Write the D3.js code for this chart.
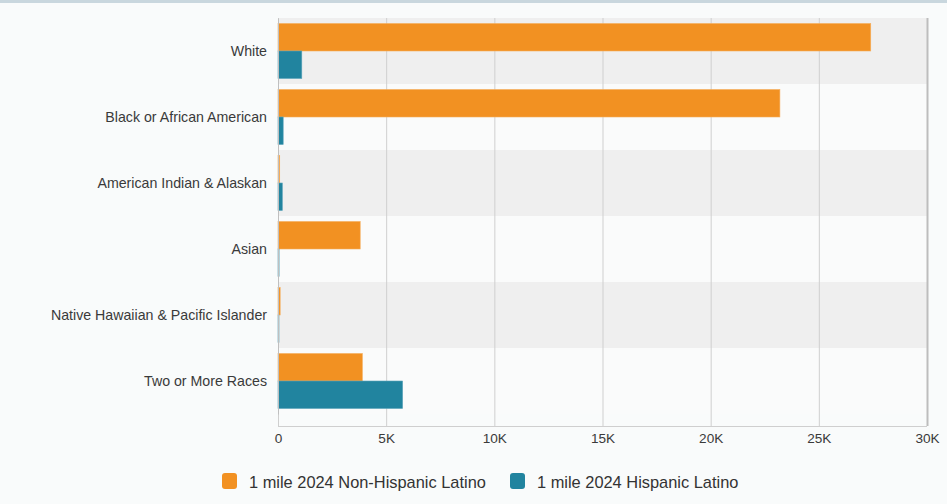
<!DOCTYPE html>
<html>
<head>
<meta charset="utf-8">
<script src="https://cdn.jsdelivr.net/npm/d3@7"></script>
<style>
  html, body { margin: 0; padding: 0; background: #f9fbfb; }
  svg { display: block; font-family: "Liberation Sans", Arial, sans-serif; }
</style>
</head>
<body>
<svg id="chart" width="947" height="504"></svg>
<script>
// Population within 1 mile by race, split by Hispanic / Non-Hispanic Latino
const categories = [
  "White",
  "Black or African American",
  "American Indian & Alaskan",
  "Asian",
  "Native Hawaiian & Pacific Islander",
  "Two or More Races"
];
const seriesNames = ["1 mile 2024 Non-Hispanic Latino", "1 mile 2024 Hispanic Latino"];
const nonHispanic = [27400, 23200, 80, 3800, 100, 3900];
const hispanic = [1100, 240, 200, 50, 40, 5760];
const tickValues = [0, 5000, 10000, 15000, 20000, 25000, 30000];
const tickLabels = ["0", "5K", "10K", "15K", "20K", "25K", "30K"];
const colors = ["#f29122", "#21849f"];
const edgeColors = ["#f6ae5c", "#5aa3b9"];

const svg = d3.select("#chart");
const W = 947, H = 504;

// top accent strip
svg.append("rect").attr("x", 0).attr("y", 0).attr("width", W).attr("height", 3).attr("fill", "#c9d7de");

const plot = { left: 278, right: 927, top: 18, rowsBottom: 414, bottom: 426 };

const x = d3.scaleLinear().domain([0, 30000]).range([plot.left, plot.right]);
const y = d3.scaleBand().domain(categories).range([plot.top, plot.rowsBottom]);
const inner = d3.scaleBand().domain(seriesNames).range([0, y.bandwidth()]).paddingOuter(0.2);

// alternating row bands
svg.append("g").selectAll("rect").data(categories).join("rect")
  .attr("x", plot.left).attr("y", d => y(d))
  .attr("width", plot.right - plot.left).attr("height", y.bandwidth())
  .attr("fill", (d, i) => i % 2 === 0 ? "#efefef" : "#fafbfb");

// vertical grid lines
svg.append("g").selectAll("line").data(tickValues).join("line")
  .attr("x1", d => x(d) + 0.5).attr("x2", d => x(d) + 0.5)
  .attr("y1", plot.top).attr("y2", plot.bottom)
  .attr("stroke", (d, i) => i === tickValues.length - 1 ? "#bdbdbd" : "#cfcfcf")
  .attr("stroke-width", (d, i) => i === tickValues.length - 1 ? 2 : 1);

// bottom axis line
svg.append("line")
  .attr("x1", plot.left).attr("x2", plot.right)
  .attr("y1", plot.bottom + 0.5).attr("y2", plot.bottom + 0.5)
  .attr("stroke", "#cfcfcf");

// bars
const series = [nonHispanic, hispanic];
series.forEach((vals, s) => {
  svg.append("g").selectAll("rect").data(vals).join("rect")
    .attr("x", x(0))
    .attr("y", (d, i) => y(categories[i]) + inner(seriesNames[s]))
    .attr("width", d => Math.max(x(d) - x(0), 1))
    .attr("height", inner.bandwidth())
    .attr("fill", colors[s])
    .attr("stroke", edgeColors[s])
    .attr("stroke-width", 0.6);
});

// category labels
const yAxis = d3.axisLeft(y).tickSize(0).tickPadding(11);
const gy = svg.append("g").attr("transform", `translate(${plot.left},0)`).call(yAxis);
gy.select(".domain").attr("stroke", "#bfbfbf");
gy.selectAll("text").attr("font-size", 14.2).attr("fill", "#3a3a3a").attr("font-family", "Liberation Sans, Arial, sans-serif");

// x axis tick labels
const xAxis = d3.axisBottom(x).tickValues(tickValues).tickFormat((d, i) => tickLabels[i]).tickSize(0).tickPadding(7);
const gx = svg.append("g").attr("transform", `translate(0,${plot.bottom})`).call(xAxis);
gx.select(".domain").remove();
gx.selectAll("text").attr("font-size", 13.6).attr("fill", "#3a3a3a").attr("font-family", "Liberation Sans, Arial, sans-serif");

// legend
const legendItems = [{ name: seriesNames[0], x: 222 }, { name: seriesNames[1], x: 510 }];
const lg = svg.append("g");
legendItems.forEach((item, i) => {
  lg.append("rect").attr("x", item.x).attr("y", 473).attr("width", 15).attr("height", 16)
    .attr("rx", 3).attr("fill", colors[i]);
  lg.append("text").attr("x", item.x + 27).attr("y", 488)
    .attr("font-size", 16.4).attr("fill", "#333").text(item.name);
});
</script>
</body>
</html>
